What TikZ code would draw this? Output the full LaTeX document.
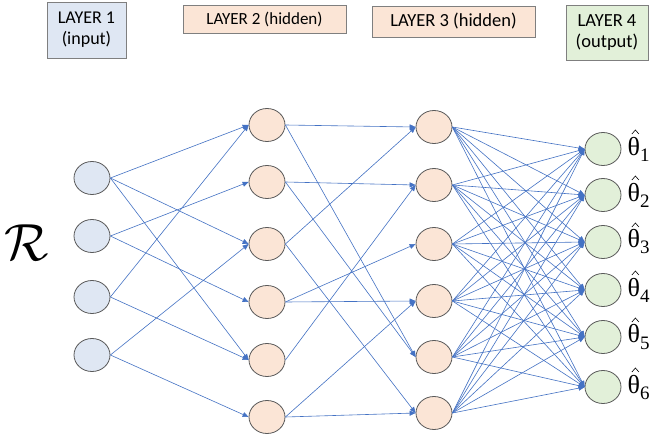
\documentclass[tikz,border=0pt]{standalone}
\usepackage{fontspec}
\setmainfont{Carlito}
\newfontfamily\thetafont{Liberation Serif}
\usetikzlibrary{arrows.meta,shapes.geometric}
\definecolor{inblue}{HTML}{DFE7F3}
\definecolor{hidpeach}{HTML}{FBE5D6}
\definecolor{outgreen}{HTML}{E2F0D9}
\definecolor{edgeblue}{HTML}{4472C4}
\definecolor{nodeline}{HTML}{595959}
\definecolor{boxline}{HTML}{7F7F7F}
\newcommand{\thetasub}[1]{{\thetafont\fontsize{26}{26}\selectfont θ}\raisebox{-6pt}{\thetafont\fontsize{19}{19}\selectfont #1}}
\tikzset{
  neuron/.style={ellipse, draw=nodeline, line width=0.8pt, minimum width=36pt, minimum height=33pt, inner sep=0pt},
  inneuron/.style={neuron, fill=inblue},
  hidneuron/.style={neuron, fill=hidpeach},
  outneuron/.style={neuron, fill=outgreen},
  edge/.style={draw=edgeblue, line width=0.6pt, -{Triangle[length=6pt,width=5pt]}},
  layerbox/.style={draw=boxline, line width=0.8pt, align=center, inner sep=0pt},
  thetalabel/.style={anchor=west, inner sep=0pt},
  hatmark/.style={draw=black, line width=0.6pt}
}
\begin{document}
\begin{tikzpicture}[x=1pt,y=-1pt]
\useasboundingbox (0,0) rectangle (652,438);
\fill[white] (0,0) rectangle (652,438);

% layer title boxes
\node[layerbox, fill=inblue, minimum width=79pt, minimum height=56pt, font=\fontsize{18}{21}\selectfont] (t1) at (86.5,30) {LAYER 1\\(input)};
\node[layerbox, fill=hidpeach, minimum width=163pt, minimum height=28pt, font=\fontsize{17}{20}\selectfont] (t2) at (264.5,19) {LAYER 2 (hidden)};
\node[layerbox, fill=hidpeach, minimum width=163pt, minimum height=31pt, font=\fontsize{18.5}{21}\selectfont] (t3) at (453.5,21.5) {LAYER 3 (hidden)};
\node[layerbox, fill=outgreen, minimum width=82pt, minimum height=55pt, font=\fontsize{18.5}{21.5}\selectfont] (t4) at (607,32.5) {LAYER 4\\(output)};

% input label
\node[inner sep=0pt] (R) at (27,243) {\scalebox{2.1}{\fontsize{24.88}{25}\selectfont$\mathcal{R}$}};

% layer 1
\foreach \y [count=\i] in {178,236,297,355}
  \node[inneuron] (a\i) at (92,\y) {};
% layer 2
\foreach \y [count=\i] in {125,182,244,302,360,417}
  \node[hidneuron] (b\i) at (267,\y) {};
% layer 3
\foreach \y [count=\i] in {127,185,244,301,357,413}
  \node[hidneuron] (c\i) at (434,\y) {};
% layer 4
\foreach \y [count=\i] in {149,195,242,290,337,387}
  \node[outneuron] (d\i) at (603,\y) {};

% theta labels with hats
\foreach \i in {1,...,6} {
  \node[thetalabel] (th\i) at ([xshift=6pt]d\i.east) {\thetasub{\i}};
  \draw[hatmark] ([shift={(10.5pt,15pt)}]d\i.east) -- ++(3.5,-4) -- ++(3.5,4);
}

% layer 1 -> layer 2
\foreach \s/\t in {1/1,1/3,1/5,2/2,2/4,3/1,3/5,4/3,4/6}
  \draw[edge] (a\s.east) -- (b\t.west);

% layer 2 -> layer 3
\foreach \s/\t in {1/1,1/5,2/2,2/5,3/1,3/6,4/3,4/4,5/2,6/4,6/6}
  \draw[edge] (b\s.east) -- (c\t.west);

% layer 3 -> layer 4
\foreach \s in {1,...,6}
  \foreach \t in {1,...,6}
    \draw[edge] (c\s.east) -- (d\t.west);
\end{tikzpicture}
\end{document}
